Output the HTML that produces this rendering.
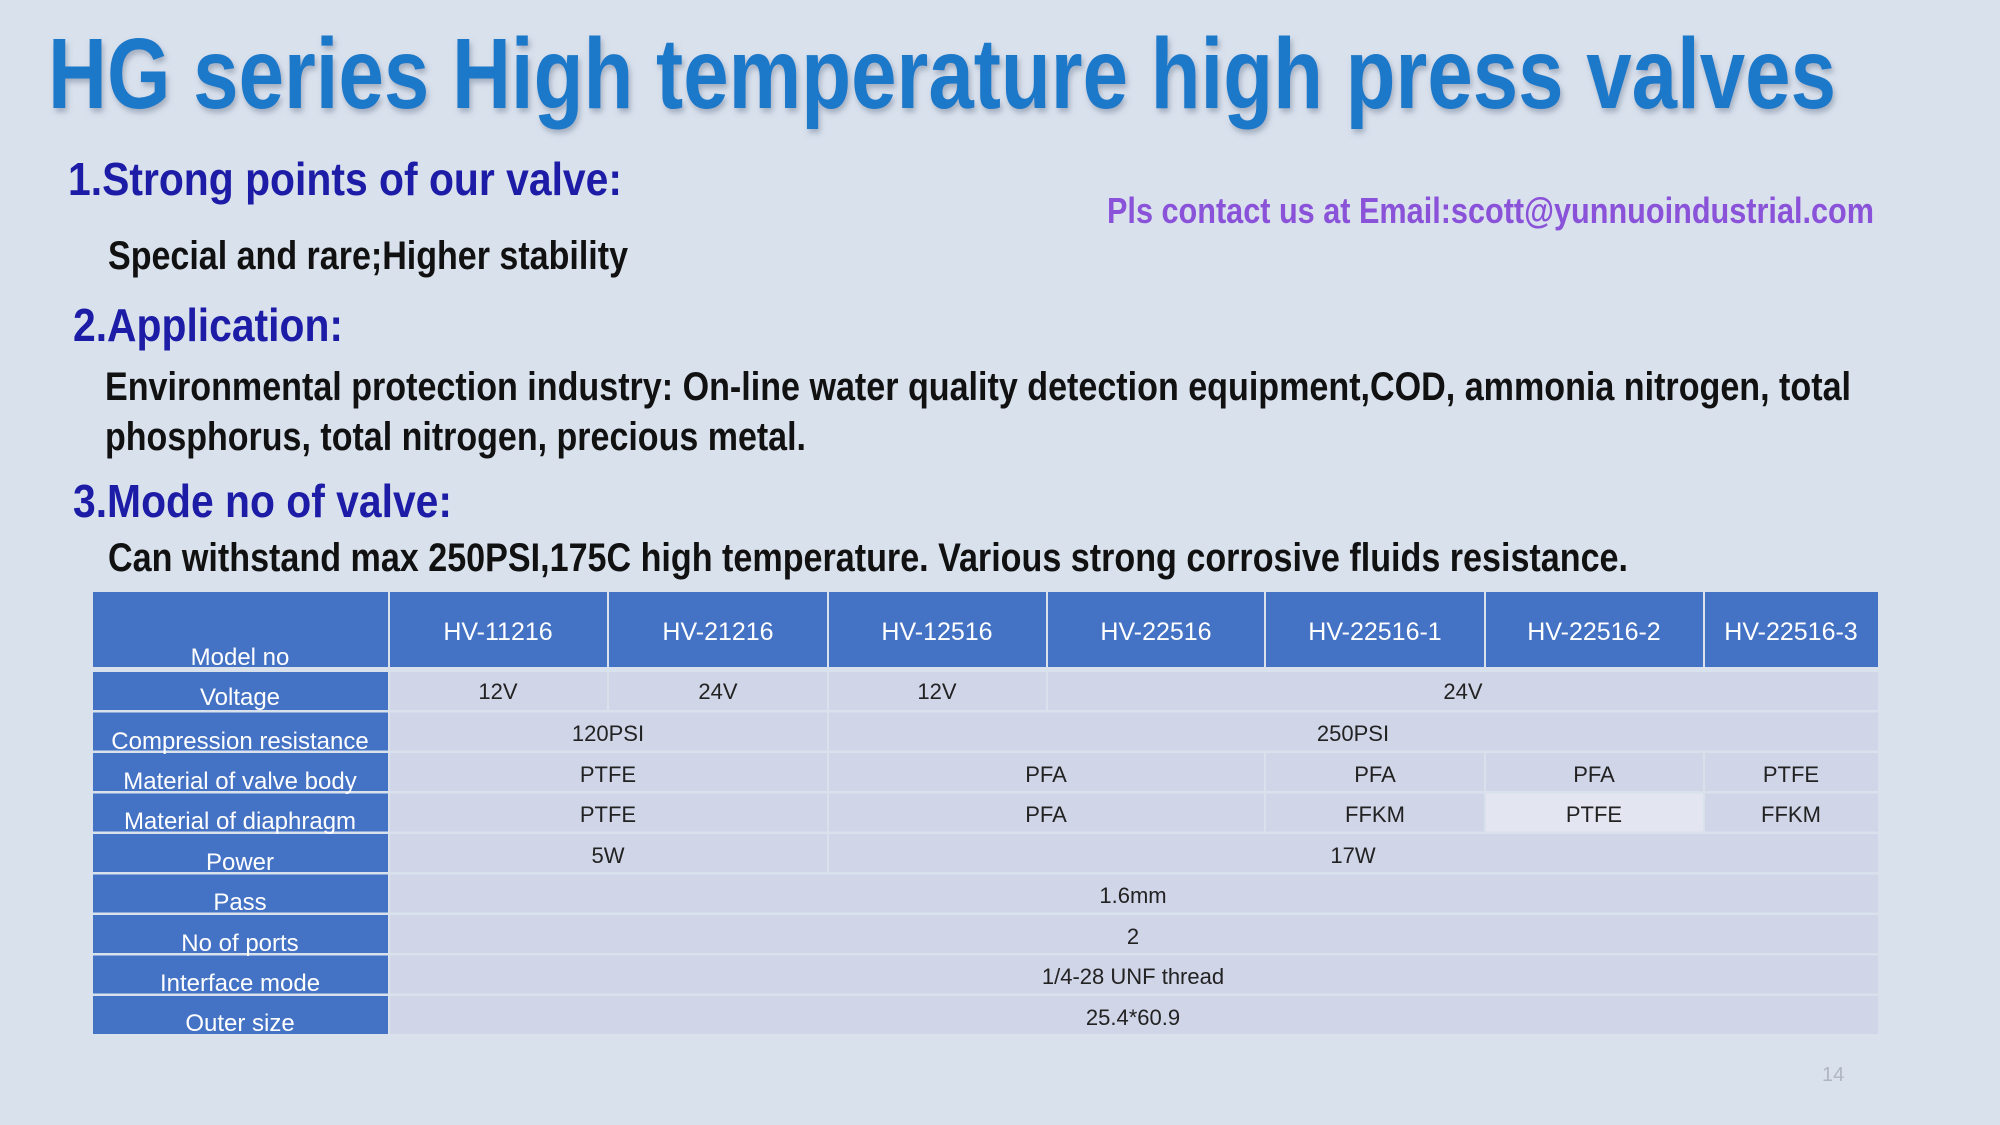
<!DOCTYPE html>
<html><head><meta charset="utf-8"><style>
html,body{margin:0;padding:0;width:2000px;height:1125px;overflow:hidden;background:#d9e1ed}
svg{display:block}
.h{font-family:"Liberation Sans",sans-serif;font-weight:bold}
.l{font-family:"Liberation Sans",sans-serif;fill:#fff;font-size:24px}
.v{font-family:"Liberation Sans",sans-serif;fill:#222;font-size:22px}
.hd{font-family:"Liberation Sans",sans-serif;fill:#fff;font-size:25px}
.b{fill:#4472c4}.c{fill:#d0d5e8}
</style></head><body>
<svg width="2000" height="1125" viewBox="0 0 2000 1125" xmlns="http://www.w3.org/2000/svg">
<defs><filter id="sh" x="-5%" y="-20%" width="110%" height="150%"><feDropShadow dx="2" dy="4" stdDeviation="3" flood-color="#6a7a90" flood-opacity="0.5"/></filter></defs>
<rect width="2000" height="1125" fill="#d9e1ed"/>
<text class="h" x="48" y="108" font-size="100" fill="#1f78c9" textLength="1788" lengthAdjust="spacingAndGlyphs" filter="url(#sh)">HG series High temperature high press valves</text>
<text class="h" x="68" y="195" font-size="46" fill="#1c1ca6" textLength="554" lengthAdjust="spacingAndGlyphs">1.Strong points of our valve:</text>
<text class="h" x="1107" y="223" font-size="36" fill="#8a52d8" textLength="767" lengthAdjust="spacingAndGlyphs">Pls contact us at Email:scott@yunnuoindustrial.com</text>
<text class="h" x="108" y="269" font-size="40" fill="#111" textLength="520" lengthAdjust="spacingAndGlyphs">Special and rare;Higher stability</text>
<text class="h" x="73" y="341" font-size="46" fill="#1c1ca6" textLength="270" lengthAdjust="spacingAndGlyphs">2.Application:</text>
<text class="h" x="105" y="400" font-size="40" fill="#111" textLength="1746" lengthAdjust="spacingAndGlyphs">Environmental protection industry: On-line water quality detection equipment,COD, ammonia nitrogen, total</text>
<text class="h" x="105" y="450" font-size="40" fill="#111" textLength="701" lengthAdjust="spacingAndGlyphs">phosphorus, total nitrogen, precious metal.</text>
<text class="h" x="73" y="517" font-size="46" fill="#1c1ca6" textLength="379" lengthAdjust="spacingAndGlyphs">3.Mode no of valve:</text>
<text class="h" x="108" y="571" font-size="40" fill="#111" textLength="1520" lengthAdjust="spacingAndGlyphs">Can withstand max 250PSI,175C high temperature. Various strong corrosive fluids resistance.</text>

<rect class="b" x="93" y="592" width="295" height="75"/>
<rect class="b" x="390" y="592" width="217" height="75"/>
<rect class="b" x="609" y="592" width="218" height="75"/>
<rect class="b" x="829" y="592" width="217" height="75"/>
<rect class="b" x="1048" y="592" width="216" height="75"/>
<rect class="b" x="1266" y="592" width="218" height="75"/>
<rect class="b" x="1486" y="592" width="217" height="75"/>
<rect class="b" x="1705" y="592" width="173" height="75"/>
<text class="l" x="240" y="665" text-anchor="middle">Model no</text>
<g class="hd" text-anchor="middle">
<text x="498" y="640">HV-11216</text><text x="718" y="640">HV-21216</text><text x="937" y="640">HV-12516</text>
<text x="1156" y="640">HV-22516</text><text x="1375" y="640">HV-22516-1</text><text x="1594" y="640">HV-22516-2</text><text x="1791" y="640">HV-22516-3</text>
</g>

<g>
<rect class="b" x="93" y="672" width="295" height="38"/>
<rect class="b" x="93" y="712.5" width="295" height="38"/>
<rect class="b" x="93" y="753" width="295" height="38"/>
<rect class="b" x="93" y="793.5" width="295" height="38"/>
<rect class="b" x="93" y="834" width="295" height="38"/>
<rect class="b" x="93" y="874.5" width="295" height="38"/>
<rect class="b" x="93" y="915" width="295" height="38"/>
<rect class="b" x="93" y="955.5" width="295" height="38"/>
<rect class="b" x="93" y="996" width="295" height="38"/>
</g>
<g class="l" text-anchor="middle">
<text x="240" y="705">Voltage</text>
<text x="240" y="749">Compression resistance</text>
<text x="240" y="789">Material of valve body</text>
<text x="240" y="829">Material of diaphragm</text>
<text x="240" y="870">Power</text>
<text x="240" y="910">Pass</text>
<text x="240" y="951">No of ports</text>
<text x="240" y="991">Interface mode</text>
<text x="240" y="1031">Outer size</text>
</g>

<g>
<rect class="c" x="390" y="672" width="217" height="38"/><rect class="c" x="609" y="672" width="218" height="38"/><rect class="c" x="829" y="672" width="217" height="38"/><rect class="c" x="1048" y="672" width="830" height="38"/>
<rect class="c" x="390" y="712.5" width="437" height="38"/><rect class="c" x="829" y="712.5" width="1049" height="38"/>
<rect class="c" x="390" y="753" width="437" height="38"/><rect class="c" x="829" y="753" width="435" height="38"/><rect class="c" x="1266" y="753" width="218" height="38"/><rect class="c" x="1486" y="753" width="217" height="38"/><rect class="c" x="1705" y="753" width="173" height="38"/>
<rect class="c" x="390" y="793.5" width="437" height="38"/><rect class="c" x="829" y="793.5" width="435" height="38"/><rect class="c" x="1266" y="793.5" width="218" height="38"/><rect x="1486" y="793.5" width="217" height="38" fill="#e3e6f1"/><rect class="c" x="1705" y="793.5" width="173" height="38"/>
<rect class="c" x="390" y="834" width="437" height="38"/><rect class="c" x="829" y="834" width="1049" height="38"/>
<rect class="c" x="390" y="874.5" width="1488" height="38"/>
<rect class="c" x="390" y="915" width="1488" height="38"/>
<rect class="c" x="390" y="955.5" width="1488" height="38"/>
<rect class="c" x="390" y="996" width="1488" height="38"/>
</g>
<g class="v" text-anchor="middle">
<text x="498" y="699">12V</text><text x="718" y="699">24V</text><text x="937" y="699">12V</text><text x="1463" y="699">24V</text>
<text x="608" y="741">120PSI</text><text x="1353" y="741">250PSI</text>
<text x="608" y="782">PTFE</text><text x="1046" y="782">PFA</text><text x="1375" y="782">PFA</text><text x="1594" y="782">PFA</text><text x="1791" y="782">PTFE</text>
<text x="608" y="822">PTFE</text><text x="1046" y="822">PFA</text><text x="1375" y="822">FFKM</text><text x="1594" y="822">PTFE</text><text x="1791" y="822">FFKM</text>
<text x="608" y="863">5W</text><text x="1353" y="863">17W</text>
<text x="1133" y="903">1.6mm</text>
<text x="1133" y="944">2</text>
<text x="1133" y="984">1/4-28 UNF thread</text>
<text x="1133" y="1025">25.4*60.9</text>
</g>
<text x="1822" y="1081" font-family="Liberation Sans, sans-serif" font-size="20" fill="#b0b6c2">14</text>
</svg>
</body></html>
